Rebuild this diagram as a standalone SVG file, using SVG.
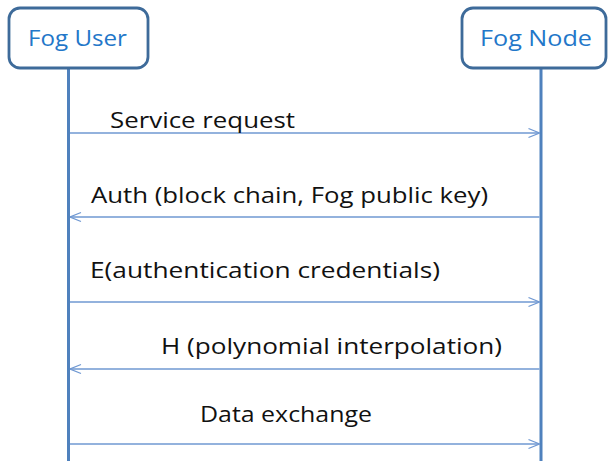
<svg xmlns="http://www.w3.org/2000/svg" width="608" height="461" viewBox="0 0 608 461">
<style>
.box{fill:#ffffff;stroke:#3E6B9A;stroke-width:2.8}
.life{stroke:#4F81BD;stroke-width:3}
.msg{stroke:#6F98D2;stroke-width:1.3;fill:none}
.nt{font-family:"Open Sans","Liberation Sans",sans-serif;font-size:22px;fill:#2377C9}
.lt{font-family:"Open Sans","Liberation Sans",sans-serif;font-size:21px;fill:#111111}
</style>
<defs>
<marker id="ah" viewBox="0 0 12 12" refX="12" refY="6" markerWidth="12" markerHeight="12" markerUnits="userSpaceOnUse" orient="auto">
<path d="M1,1.5 L12,6 L1,10.5" fill="none" stroke="#6F98D2" stroke-width="1.3"/>
</marker>
</defs>
<rect width="608" height="461" fill="#ffffff"/>
<g id="lifelines">
<line class="life" x1="68.5" y1="68" x2="68.5" y2="461"/>
<line class="life" x1="541" y1="68" x2="541" y2="461"/>
</g>
<g id="fog-user">
<rect class="box" x="9" y="8" width="139" height="60" rx="11"/>
<text class="nt" x="28" y="46" textLength="99" lengthAdjust="spacingAndGlyphs">Fog User</text>
</g>
<g id="fog-node">
<rect class="box" x="462" y="8" width="144" height="60" rx="11"/>
<text class="nt" x="480" y="46" textLength="112" lengthAdjust="spacingAndGlyphs">Fog Node</text>
</g>
<g id="connectors">
<line class="msg" x1="70" y1="133" x2="539.5" y2="133" marker-end="url(#ah)"/>
<line class="msg" x1="539.5" y1="217" x2="70" y2="217" marker-end="url(#ah)"/>
<line class="msg" x1="70" y1="302" x2="539.5" y2="302" marker-end="url(#ah)"/>
<line class="msg" x1="539.5" y1="369" x2="70" y2="369" marker-end="url(#ah)"/>
<line class="msg" x1="70" y1="444" x2="539.5" y2="444" marker-end="url(#ah)"/>
</g>
<g id="labels">
<text class="lt" x="110" y="128" textLength="185" lengthAdjust="spacingAndGlyphs">Service request</text>
<text class="lt" x="91" y="203" textLength="397" lengthAdjust="spacingAndGlyphs">Auth (block chain, Fog public key)</text>
<text class="lt" x="90" y="278" textLength="350" lengthAdjust="spacingAndGlyphs">E(authentication credentials)</text>
<text class="lt" x="161" y="354" textLength="341" lengthAdjust="spacingAndGlyphs">H (polynomial interpolation)</text>
<text class="lt" x="200" y="422" textLength="172" lengthAdjust="spacingAndGlyphs">Data exchange</text>
</g>
</svg>
